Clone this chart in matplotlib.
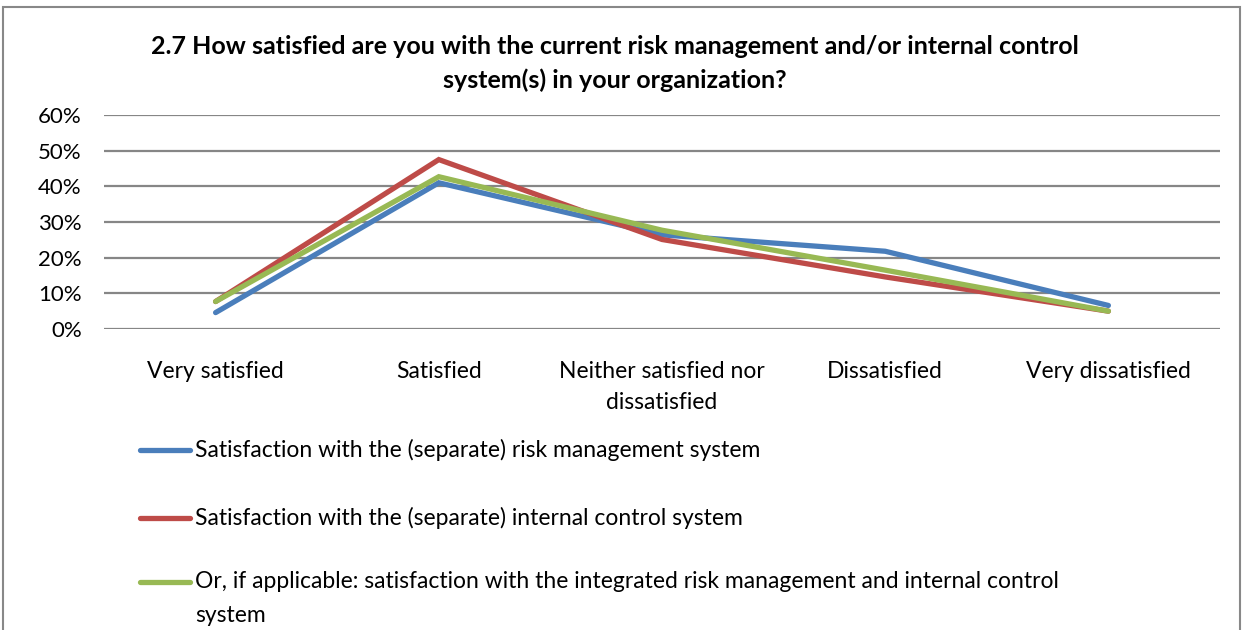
import matplotlib
matplotlib.use("Agg")
import matplotlib.pyplot as plt
from matplotlib.lines import Line2D
from matplotlib.patches import Rectangle
from matplotlib.ticker import PercentFormatter

plt.rcParams['font.family'] = ['Lato', 'DejaVu Sans']

categories = ["Very satisfied", "Satisfied", "Neither satisfied nor\ndissatisfied",
              "Dissatisfied", "Very dissatisfied"]
risk_mgmt = [4.6, 41.0, 26.4, 21.8, 6.6]
internal_control = [7.7, 47.5, 25.1, 14.6, 5.0]
integrated = [7.7, 42.7, 27.7, 16.5, 5.0]

labels = ["Satisfaction with the (separate) risk management system",
          "Satisfaction with the (separate) internal control system",
          "Or, if applicable: satisfaction with the integrated risk management and internal control\nsystem"]
colors = ["#4A7EBB", "#BE4B48", "#98B954"]

W, H = 1247, 630
fig = plt.figure(figsize=(W / 100, H / 100), dpi=100)

# chart border
fig.add_artist(Rectangle((3 / W, -0.05), 1237 / W, 1.05 - 7 / H, transform=fig.transFigure,
                         fill=False, edgecolor="#888888", linewidth=1.5))

ax = fig.add_axes([104 / W, (H - 329) / H, (1220 - 104) / W, (329 - 115) / H])
x = range(len(categories))
for vals, c in zip([risk_mgmt, internal_control, integrated], colors):
    ax.plot(x, vals, color=c, linewidth=3.8, solid_capstyle="round", solid_joinstyle="miter")

ax.set_xlim(-0.5, 4.5)
ax.set_ylim(0, 60)
ax.set_yticks(range(0, 61, 10))
ax.yaxis.set_major_formatter(PercentFormatter(decimals=0))
ax.set_xticks(list(x))
ax.set_xticklabels(categories, fontsize=16.5, linespacing=1.6)
ax.tick_params(axis="x", length=0, pad=23)
ax.tick_params(axis="y", length=0, pad=16, labelsize=16)
ax.grid(axis="y", color="#868686", linewidth=1.6)
ax.set_axisbelow(True)
for s in ax.spines.values():
    s.set_visible(False)

fig.text(615 / W, 1 - 47 / H, "2.7 How satisfied are you with the current risk management and/or internal control",
         ha="center", va="center", fontsize=18, fontweight="bold")
fig.text(615 / W, 1 - 80 / H, "system(s) in your organization?",
         ha="center", va="center", fontsize=18, fontweight="bold")

# legend
for i, (lab, c) in enumerate(zip(labels, colors)):
    ly = [450, 518, 582][i]
    fig.add_artist(Line2D([140 / W, 190 / W], [1 - ly / H, 1 - ly / H], transform=fig.transFigure,
                          color=c, linewidth=3.8, solid_capstyle="round"))
    for j, part in enumerate(lab.split("\n")):
        fig.text(195 / W, 1 - (ly + 33 * j) / H, part, ha="left", va="center", fontsize=16.5)

fig.savefig("out.png", dpi=100)
